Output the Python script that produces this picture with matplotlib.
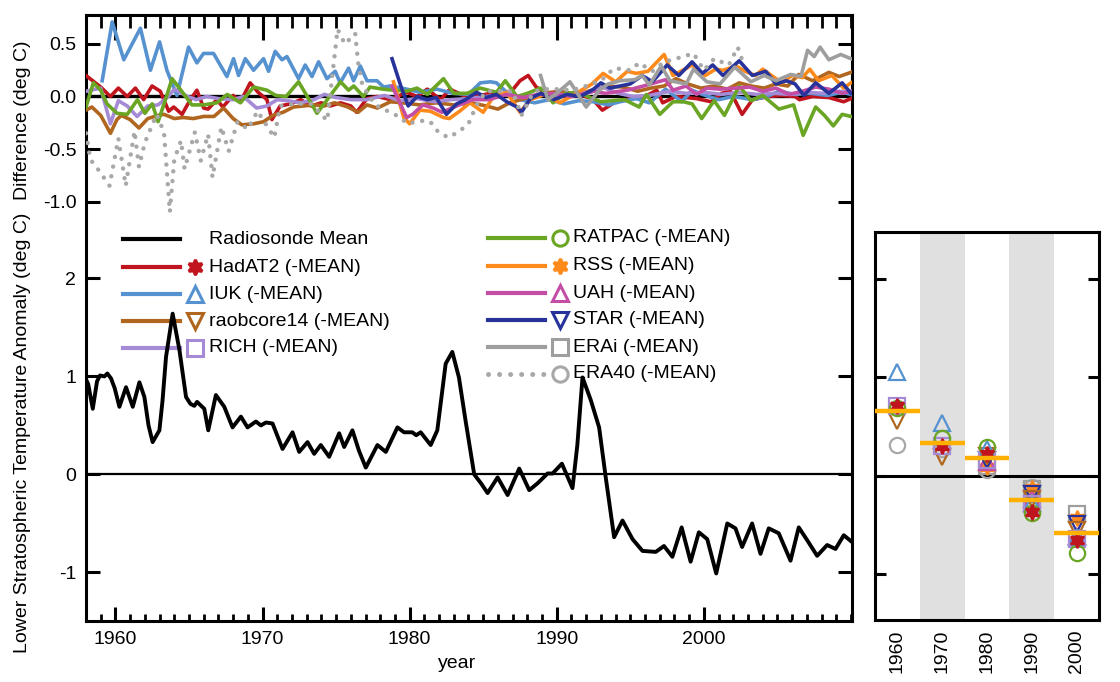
import numpy as np
import matplotlib
matplotlib.use("Agg")
import matplotlib.pyplot as plt
from matplotlib.lines import Line2D
from matplotlib.ticker import MultipleLocator

plt.rcParams['font.family'] = ['Liberation Sans', 'DejaVu Sans']

# radiosonde mean anomaly (year, deg C)
rs_mean = np.array([
    (1958.0, 0.97), (1958.15, 0.92), (1958.46, 0.67), (1958.75, 0.95), (1958.95, 1.01),
    (1959.25, 1.00), (1959.45, 1.03), (1959.7, 0.98), (1959.95, 0.88), (1960.27, 0.69),
    (1960.72, 0.89), (1961.18, 0.69), (1961.63, 0.94), (1961.97, 0.79), (1962.25, 0.50),
    (1962.53, 0.33), (1962.99, 0.45), (1963.2, 0.75), (1963.44, 1.20), (1963.89, 1.64),
    (1964.35, 1.27), (1964.8, 0.79), (1965.1, 0.72), (1965.36, 0.70), (1965.55, 0.74),
    (1966.04, 0.67), (1966.31, 0.45), (1966.83, 0.81), (1967.4, 0.69), (1967.96, 0.48),
    (1968.53, 0.59), (1968.98, 0.48), (1969.55, 0.54), (1969.89, 0.50), (1970.23, 0.53),
    (1970.68, 0.52), (1971.36, 0.26), (1972.04, 0.43), (1972.49, 0.23), (1973.06, 0.33),
    (1973.51, 0.21), (1973.96, 0.30), (1974.53, 0.18), (1975.21, 0.42), (1975.55, 0.28),
    (1976.11, 0.45), (1976.56, 0.24), (1977.02, 0.07), (1977.81, 0.30), (1978.38, 0.23),
    (1979.17, 0.48), (1979.62, 0.43), (1980.18, 0.43), (1980.45, 0.40), (1980.75, 0.43),
    (1981.43, 0.30), (1981.88, 0.45), (1982.45, 1.13), (1982.9, 1.25), (1983.35, 0.99),
    (1983.8, 0.55), (1984.39, 0.00), (1984.85, -0.09), (1985.3, -0.19), (1985.98, -0.03),
    (1986.66, -0.21), (1987.45, 0.06), (1988.13, -0.16), (1988.7, -0.09), (1989.38, 0.01),
    (1989.72, 0.01), (1990.35, 0.11), (1991.07, -0.14), (1991.4, 0.30), (1991.75, 0.99),
    (1992.31, 0.76), (1992.88, 0.48), (1993.33, -0.03), (1993.9, -0.64), (1994.47, -0.47),
    (1995.15, -0.66), (1995.83, -0.78), (1996.73, -0.79), (1997.29, -0.73), (1997.86, -0.84),
    (1998.49, -0.54), (1999.1, -0.89), (1999.66, -0.59), (2000.23, -0.66), (2000.84, -1.01),
    (2001.59, -0.50), (2002.15, -0.55), (2002.6, -0.74), (2003.28, -0.50), (2003.85, -0.81),
    (2004.41, -0.55), (2005.09, -0.60), (2005.89, -0.88), (2006.45, -0.54), (2007.02, -0.67),
    (2007.7, -0.83), (2008.38, -0.72), (2008.95, -0.76), (2009.51, -0.62), (2010.08, -0.69)])

# differences from the mean (year, deg C)
hadat2 = np.array([
    (1958.0, 0.20), (1959.0, 0.09), (1959.66, 0.0), (1960.2, 0.08), (1960.8, 0.0),
    (1961.36, 0.08), (1961.92, -0.03), (1962.49, 0.10), (1963.05, 0.05), (1963.62, -0.14),
    (1963.96, -0.10), (1964.53, -0.17), (1965.09, -0.03), (1965.54, 0.06), (1966.0, -0.11),
    (1966.3, -0.12), (1966.9, -0.03), (1967.3, -0.10), (1968.0, 0.01), (1968.5, -0.05),
    (1969.16, 0.13), (1969.7, 0.04), (1970.3, -0.03), (1970.64, -0.22), (1971.2, -0.09),
    (1971.9, -0.07), (1972.6, -0.03), (1973.3, -0.09), (1974.0, -0.06), (1974.6, -0.09),
    (1975.3, -0.06), (1976.0, -0.09), (1976.4, -0.15), (1977.1, -0.02), (1977.8, 0.0),
    (1978.7, -0.03), (1979.8, 0.04), (1980.5, 0.0), (1981.2, 0.07), (1982.1, -0.03),
    (1982.74, 0.07), (1983.8, 0.0), (1984.8, 0.01), (1985.5, 0.03), (1986.2, 0.0),
    (1987.04, 0.07), (1987.5, 0.15), (1988.06, 0.20), (1988.6, 0.09), (1989.3, 0.03),
    (1990.6, 0.0), (1991.5, 0.02), (1992.4, -0.02), (1993.1, -0.13), (1994.0, -0.05),
    (1995.1, -0.02), (1996.0, 0.0), (1996.8, 0.06), (1997.2, -0.06), (1998.1, 0.0),
    (1999.5, -0.02), (2000.5, -0.05), (2001.2, 0.03), (2001.8, 0.05), (2002.6, -0.17),
    (2003.3, -0.03), (2004.4, 0.0), (2005.3, 0.01), (2006.2, 0.0), (2006.5, -0.03),
    (2007.4, 0.0), (2008.5, -0.01), (2009.5, -0.05), (2010.0, -0.02)])

iuk = np.array([
    (1959.1, 0.15), (1959.78, 0.71), (1960.57, 0.35), (1961.7, 0.65), (1962.38, 0.25),
    (1963.0, 0.52), (1963.5, 0.25), (1964.18, 0.01), (1964.97, 0.47), (1965.54, 0.32),
    (1965.99, 0.41), (1966.67, 0.41), (1967.58, 0.19), (1968.03, 0.36), (1968.37, 0.20),
    (1968.83, 0.36), (1969.39, 0.25), (1970.07, 0.36), (1970.41, 0.24), (1970.86, 0.43),
    (1971.32, 0.35), (1971.66, 0.38), (1972.45, 0.17), (1972.9, 0.30), (1973.36, 0.19),
    (1973.81, 0.33), (1974.38, 0.17), (1974.94, 0.24), (1975.28, 0.13), (1975.85, 0.27),
    (1976.19, 0.15), (1976.65, 0.29), (1977.1, 0.15), (1977.78, 0.15), (1978.23, 0.09),
    (1978.68, 0.10), (1979.8, 0.07), (1980.7, 0.04), (1981.84, 0.07), (1982.95, 0.03),
    (1984.0, 0.02), (1984.8, 0.13), (1985.5, 0.14), (1985.9, 0.13), (1986.6, 0.04),
    (1987.5, -0.03), (1988.5, -0.06), (1989.5, -0.03), (1990.5, -0.07), (1991.5, -0.04),
    (1992.5, -0.05), (1993.5, -0.08), (1994.3, -0.05), (1995.4, -0.02), (1996.3, -0.06),
    (1997.4, 0.07), (1998.5, -0.05), (1999.2, 0.06), (1999.9, 0.02), (2001.0, -0.03),
    (2002.0, 0.0), (2003.3, -0.03), (2004.3, 0.0), (2005.1, 0.05), (2006.2, 0.02),
    (2007.3, 0.03), (2008.4, 0.01), (2009.4, 0.04), (2010.0, 0.02)])

raobcore14 = np.array([
    (1958.0, -0.13), (1958.4, -0.10), (1959.0, -0.18), (1959.66, -0.35), (1960.1, -0.22),
    (1960.4, -0.18), (1961.0, -0.22), (1961.6, -0.30), (1962.2, -0.21), (1962.9, -0.18),
    (1963.3, -0.17), (1964.0, -0.21), (1964.6, -0.20), (1965.3, -0.21), (1966.0, -0.19),
    (1966.7, -0.19), (1967.35, -0.11), (1968.0, -0.21), (1968.6, -0.27), (1969.4, -0.26),
    (1970.07, -0.24), (1970.7, -0.18), (1971.4, -0.15), (1972.1, -0.10), (1972.8, -0.09),
    (1973.5, -0.08), (1974.2, -0.09), (1974.9, -0.06), (1975.8, -0.10), (1976.5, -0.15),
    (1977.1, -0.08), (1977.8, -0.11), (1978.7, -0.05), (1979.5, -0.06), (1980.7, -0.08),
    (1981.8, -0.06), (1983.0, -0.08), (1984.2, -0.06), (1985.2, -0.09), (1986.0, -0.12),
    (1986.8, -0.06), (1987.8, -0.02), (1989.0, 0.03), (1990.2, 0.05), (1991.4, 0.02),
    (1992.4, 0.06), (1993.3, 0.10), (1994.5, 0.09), (1995.5, 0.05), (1996.4, 0.08),
    (1997.3, 0.10), (1998.1, 0.17), (1998.9, 0.12), (1999.8, 0.08), (2000.7, 0.10),
    (2001.6, 0.07), (2002.4, 0.13), (2003.2, 0.10), (2004.1, 0.08), (2004.9, 0.12),
    (2005.7, 0.10), (2006.45, 0.21), (2007.4, 0.15), (2008.5, 0.23), (2009.2, 0.19),
    (2010.0, 0.23)])

rich = np.array([
    (1958.0, 0.05), (1959.0, 0.08), (1959.66, -0.26), (1960.2, -0.04), (1960.8, -0.09),
    (1961.47, -0.19), (1962.2, -0.09), (1962.9, -0.08), (1963.6, 0.0), (1964.0, 0.07),
    (1964.9, 0.0), (1965.5, -0.03), (1966.2, 0.0), (1967.0, -0.02), (1968.0, -0.03),
    (1968.7, 0.0), (1969.6, -0.11), (1970.3, -0.09), (1971.0, -0.03), (1971.7, -0.04),
    (1972.6, -0.06), (1973.5, -0.03), (1974.2, 0.02), (1975.0, -0.01), (1976.0, -0.03),
    (1977.1, -0.03), (1978.3, 0.01), (1979.3, -0.04), (1980.5, -0.02), (1981.7, -0.05),
    (1982.8, -0.03), (1984.0, -0.02), (1985.2, 0.0), (1986.4, 0.02), (1987.6, -0.01),
    (1988.8, 0.02), (1990.0, 0.01), (1991.2, 0.03), (1992.3, 0.04), (1993.1, 0.09),
    (1994.2, 0.03), (1995.2, 0.0), (1996.3, 0.01), (1997.7, 0.05), (1998.8, 0.03),
    (2000.0, 0.04), (2001.2, 0.02), (2002.4, 0.04), (2003.6, 0.02), (2004.8, 0.03),
    (2005.9, 0.02), (2007.0, 0.04), (2008.2, 0.03), (2009.2, 0.05), (2010.0, 0.04)])

ratpac = np.array([
    (1958.0, -0.10), (1958.5, 0.13), (1959.0, 0.06), (1959.43, -0.07), (1960.1, -0.16),
    (1960.8, -0.17), (1961.5, -0.03), (1962.0, -0.16), (1962.5, -0.07), (1962.9, -0.24),
    (1963.4, -0.03), (1963.85, 0.17), (1964.4, 0.07), (1965.2, -0.08), (1966.0, -0.08),
    (1966.9, -0.06), (1967.6, 0.02), (1968.5, -0.06), (1969.4, 0.09), (1970.3, 0.06),
    (1970.9, 0.01), (1971.6, 0.0), (1972.45, 0.14), (1973.0, 0.01), (1973.7, -0.16),
    (1974.4, -0.03), (1975.3, 0.14), (1975.85, 0.06), (1976.2, 0.10), (1976.86, 0.0),
    (1977.3, 0.09), (1978.2, 0.07), (1978.9, 0.06), (1979.8, 0.05), (1980.5, 0.08),
    (1981.2, 0.02), (1982.3, 0.17), (1983.0, 0.03), (1983.9, 0.03), (1984.8, 0.08),
    (1985.9, 0.04), (1986.5, 0.15), (1987.3, 0.0), (1988.0, 0.03), (1988.9, 0.08),
    (1989.75, -0.06), (1990.6, 0.03), (1991.5, 0.04), (1992.1, 0.0), (1993.0, -0.05),
    (1993.8, -0.04), (1994.6, -0.03), (1995.6, -0.10), (1996.1, 0.02), (1997.0, -0.17),
    (1997.9, -0.05), (1998.6, -0.05), (1999.2, -0.07), (1999.85, -0.21), (2000.7, -0.04),
    (2001.4, -0.18), (2002.4, 0.10), (2003.2, -0.04), (2004.0, 0.01), (2005.1, -0.12),
    (2006.1, -0.08), (2006.75, -0.37), (2007.6, -0.10), (2008.2, -0.18), (2008.8, -0.28),
    (2009.4, -0.17), (2010.0, -0.19)])

rss = np.array([
    (1978.9, 0.14), (1979.6, -0.20), (1980.0, -0.26), (1980.7, -0.13), (1981.4, -0.14),
    (1982.3, -0.20), (1982.7, -0.21), (1983.4, -0.14), (1984.1, -0.06), (1985.0, -0.15),
    (1985.7, 0.0), (1986.6, 0.04), (1987.5, -0.15), (1988.2, -0.03), (1989.2, 0.02),
    (1990.2, -0.06), (1991.2, 0.02), (1992.4, 0.12), (1993.15, 0.22), (1994.0, 0.14),
    (1994.8, 0.24), (1995.4, 0.22), (1996.2, 0.24), (1997.3, 0.40), (1997.9, 0.20),
    (1998.7, 0.26), (1999.2, 0.30), (2000.1, 0.20), (2000.8, 0.26), (2001.3, 0.25),
    (2002.2, 0.29), (2002.8, 0.24), (2003.5, 0.20), (2004.0, 0.26), (2004.6, 0.20),
    (2005.3, 0.13), (2006.0, 0.20), (2006.7, 0.18), (2007.2, 0.26), (2007.8, 0.15),
    (2008.7, 0.20), (2009.5, 0.08), (2010.0, 0.13)])

uah = np.array([
    (1978.8, 0.10), (1979.8, -0.20), (1980.2, -0.17), (1980.9, -0.08), (1981.6, -0.11),
    (1982.2, -0.15), (1983.2, -0.09), (1984.3, -0.03), (1985.4, -0.03), (1986.6, 0.02),
    (1987.7, -0.01), (1988.8, 0.02), (1989.8, 0.03), (1991.0, 0.0), (1992.5, 0.05),
    (1993.3, 0.03), (1994.8, 0.06), (1995.9, 0.10), (1997.4, 0.16), (1997.9, 0.06),
    (1998.8, 0.10), (1999.5, 0.02), (2000.2, 0.08), (2001.1, 0.07), (2002.2, 0.08),
    (2003.1, 0.09), (2004.0, 0.05), (2004.9, 0.08), (2005.8, 0.02), (2006.7, 0.05),
    (2007.6, 0.09), (2008.5, 0.07), (2009.4, 0.03), (2010.0, 0.05)])

star = np.array([
    (1978.8, 0.36), (1979.4, 0.10), (1979.9, -0.09), (1980.5, 0.0), (1981.2, -0.03),
    (1981.8, -0.01), (1982.5, -0.17), (1983.2, -0.07), (1983.8, -0.03), (1984.55, 0.04),
    (1985.2, -0.01), (1985.9, 0.02), (1986.6, -0.05), (1987.3, -0.10), (1987.6, -0.15),
    (1988.2, -0.02), (1988.9, 0.03), (1989.8, -0.03), (1990.7, 0.02), (1991.6, 0.0),
    (1992.5, 0.07), (1993.0, 0.13), (1993.6, 0.08), (1994.3, 0.10), (1995.0, 0.12),
    (1995.8, 0.20), (1996.5, 0.14), (1997.5, 0.30), (1998.3, 0.20), (1999.2, 0.33),
    (1999.9, 0.22), (2000.6, 0.30), (2001.3, 0.20), (2002.4, 0.34), (2003.3, 0.20),
    (2004.2, 0.24), (2004.9, 0.12), (2005.6, 0.15), (2006.2, 0.12), (2006.8, 0.01),
    (2007.6, 0.13), (2008.5, 0.03), (2009.4, 0.13), (2010.0, 0.03)])

erai = np.array([
    (1988.9, 0.20), (1989.4, -0.03), (1990.0, 0.03), (1990.9, 0.14), (1992.0, -0.10),
    (1992.9, 0.06), (1993.5, 0.12), (1994.3, 0.15), (1995.3, 0.16), (1995.8, 0.20),
    (1996.3, 0.11), (1997.1, 0.29), (1997.7, 0.15), (1998.8, 0.12), (1999.3, 0.26),
    (2000.2, 0.14), (2001.1, 0.12), (2002.1, 0.28), (2003.2, 0.14), (2004.1, 0.20),
    (2004.9, 0.15), (2005.9, 0.21), (2006.6, 0.19), (2007.05, 0.44), (2007.5, 0.38),
    (2007.9, 0.47), (2008.5, 0.35), (2009.3, 0.40), (2010.0, 0.36)])

era40 = np.array([
    (1958.0, -0.35), (1958.3, -0.60), (1958.8, -0.69), (1959.6, -0.85), (1960.2, -0.40),
    (1960.7, -0.85), (1961.3, -0.33), (1961.6, -0.67), (1962.0, -0.44), (1962.8, -0.17),
    (1963.3, -0.34), (1963.7, -1.10), (1964.0, -0.60), (1964.46, -0.42), (1964.7, -0.69),
    (1965.4, -0.34), (1965.8, -0.61), (1966.3, -0.36), (1966.6, -0.77), (1967.2, -0.29),
    (1967.7, -0.52), (1968.3, -0.24), (1969.0, -0.31), (1969.66, -0.14), (1970.8, -0.39),
    (1971.2, -0.09), (1972.3, -0.07), (1973.3, -0.07), (1974.4, -0.23), (1975.1, 0.64),
    (1975.6, 0.50), (1976.3, 0.60), (1976.5, 0.32), (1976.8, 0.10), (1977.65, -0.08),
    (1979.1, -0.18), (1979.9, -0.26), (1980.7, -0.23), (1981.4, -0.24), (1981.9, -0.33),
    (1982.6, -0.39), (1983.3, -0.34), (1984.0, -0.26), (1984.55, -0.08), (1985.2, 0.05),
    (1985.9, 0.05), (1987.0, 0.05), (1987.6, -0.18), (1988.4, 0.04), (1989.0, 0.07),
    (1990.0, 0.07), (1991.0, 0.06), (1992.0, 0.10), (1993.0, 0.15), (1993.9, 0.27),
    (1995.0, 0.25), (1995.6, 0.32), (1996.5, 0.24), (1997.3, 0.33), (1998.1, 0.36),
    (1999.3, 0.41), (2000.0, 0.25), (2000.7, 0.36), (2001.7, 0.30), (2002.3, 0.47),
    (2002.6, 0.35)])

# decadal means (right panel)
decades = ['1960', '1970', '1980', '1990', '2000']
dec_mean = [0.66, 0.33, 0.18, -0.25, -0.58]
dec_vals = {
    'HadAT2':     [0.71, 0.30, 0.22, -0.37, -0.65],
    'IUK':        [1.05, 0.54, 0.27, -0.28, -0.62],
    'raobcore14': [0.56, 0.19, 0.20, -0.24, -0.55],
    'RICH':       [0.71, 0.30, 0.16, -0.29, -0.64],
    'RATPAC':     [0.69, 0.38, 0.29, -0.38, -0.78],
    'RSS':        [np.nan, np.nan, 0.09, -0.13, -0.43],
    'UAH':        [np.nan, np.nan, 0.14, -0.24, -0.61],
    'STAR':       [np.nan, np.nan, 0.16, -0.19, -0.49],
    'ERAi':       [np.nan, np.nan, 0.10, -0.14, -0.39],
    'ERA40':      [0.31, 0.27, 0.06, -0.11, np.nan],
}

diff_series = {'HadAT2': hadat2, 'IUK': iuk, 'raobcore14': raobcore14, 'RICH': rich,
               'RATPAC': ratpac, 'RSS': rss, 'UAH': uah, 'STAR': star,
               'ERAi': erai, 'ERA40': era40}

# styles: colour, marker, filled, linestyle
DOTS = (0, (0.01, 2.2))
sty = {
    'HadAT2':     ('#c0141e', (6, 1, 0), True, '-'),
    'IUK':        ('#5691d0', '^', False, '-'),
    'raobcore14': ('#b0661e', 'v', False, '-'),
    'RICH':       ('#a58ad6', 's', False, '-'),
    'RATPAC':     ('#6aa524', 'o', False, '-'),
    'RSS':        ('#ff8a1c', (6, 1, 0), True, '-'),
    'UAH':        ('#c44ea6', '^', False, '-'),
    'STAR':       ('#27339a', 'v', False, '-'),
    'ERAi':       ('#9e9e9e', 's', False, '-'),
    'ERA40':      ('#a8a8a8', 'o', False, DOTS),
}

W, H = 1120, 682
fig = plt.figure(figsize=(W / 100, H / 100), dpi=100)


def fx(px):
    return px / W


def fy(py):
    return 1 - py / H


rect = [fx(86), fy(621), fx(852) - fx(86), fy(14.7) - fy(621)]
ax = fig.add_axes(rect)
axd = fig.add_axes(rect, sharex=ax)
axd.patch.set_visible(False)

# anomaly panel
ax.plot(rs_mean[:, 0], rs_mean[:, 1], color='k', lw=2.8, zorder=4,
        solid_joinstyle='round')
ax.axhline(0, color='k', lw=1.6, zorder=3)
ax.set_xlim(1958.0, 2010.07)
ax.set_ylim(-1.495, 4.69)
ax.set_xticks([1960, 1970, 1980, 1990, 2000])
ax.xaxis.set_minor_locator(MultipleLocator(1))
ax.set_yticks([-1, 0, 1, 2])
ax.set_yticklabels(['-1', '0', '1', '2'])
ax.tick_params(axis='x', which='major', direction='in', length=10, width=2.2,
               top=False, labelsize=14, pad=7)
ax.tick_params(axis='x', which='minor', direction='in', length=5, width=2, top=False)
ax.tick_params(axis='y', direction='in', length=10, width=2.2, right=True,
               labelsize=14, pad=7)
for s in ax.spines.values():
    s.set_linewidth(2.2)

# difference panel
axd.axhline(0, color='k', lw=2.4, zorder=1)
for name, d in diff_series.items():
    c, m, filled, ls = sty[name]
    lw = 3.2 if name == 'ERA40' else 2.6
    axd.plot(d[:, 0], d[:, 1], color=c, lw=lw, ls=ls, dash_capstyle='round',
             solid_joinstyle='round', zorder=2)
axd.set_ylim(-4.995, 0.779)
axd.set_yticks([-1.0, -0.5, 0.0, 0.5])
axd.set_yticklabels(['-1.0', '-0.5', '0.0', '0.5'])
axd.tick_params(axis='x', which='both', bottom=False, labelbottom=False, top=True,
                direction='in')
axd.tick_params(axis='x', which='major', length=18, width=2.2)
axd.tick_params(axis='x', which='minor', length=9, width=2)
axd.tick_params(axis='y', direction='in', length=10, width=2.2, right=True,
                labelsize=14, pad=7)
for s in axd.spines.values():
    s.set_visible(False)

fig.text(fx(23), fy(120), 'Difference (deg C)', rotation=90, ha='center',
         va='center', fontsize=14)
fig.text(fx(23), fy(433), 'Lower Stratospheric Temperature Anomaly (deg C)',
         rotation=90, ha='center', va='center', fontsize=14)
fig.text(fx(457), fy(664), 'year', ha='center', va='center', fontsize=14)

# legend
left_names = ['Radiosonde Mean', 'HadAT2', 'IUK', 'raobcore14', 'RICH']
left_rows = [239, 267, 294, 321, 348]
right_names = ['RATPAC', 'RSS', 'UAH', 'STAR', 'ERAi', 'ERA40']
right_rows = [238, 266, 293, 320, 347, 374]


def legend_entry(name, y, x0, x1, xm, xt):
    if name == 'Radiosonde Mean':
        c, m, filled, ls = 'k', None, False, '-'
        label = name
    else:
        c, m, filled, ls = sty[name]
        label = name + ' (-MEAN)'
    lw = 3.6 if name == 'ERA40' else 3.0
    ax.add_line(Line2D([fx(x0), fx(x1)], [fy(y), fy(y)], transform=fig.transFigure,
                       color=c, lw=lw, ls=ls, dash_capstyle='round', zorder=1,
                       clip_on=False))
    if m is not None:
        ax.add_line(Line2D([fx(xm)], [fy(y)], transform=fig.transFigure, marker=m,
                           ms=11, mec=c, mfc=c if filled else 'none', mew=2.2,
                           ls='none', zorder=1, clip_on=False))
    ax.text(fx(xt), fy(y), label, transform=fig.transFigure, ha='left',
            va='center', fontsize=14, zorder=1)


for n, y in zip(left_names, left_rows):
    legend_entry(n, y, 123, 180, 195, 209)
for n, y in zip(right_names, right_rows):
    legend_entry(n, y, 488, 545, 560, 573)

# decadal panel
axr = fig.add_axes([fx(875), fy(620), fx(1099) - fx(875), fy(232) - fy(620)])
xpos = np.arange(len(decades))
axr.axvspan(0.5, 1.5, color='#e0e0e0', lw=0, zorder=0)
axr.axvspan(2.5, 3.5, color='#e0e0e0', lw=0, zorder=0)
axr.axhline(0, color='k', lw=2.2, zorder=1)
order = ['ERA40', 'ERAi', 'RSS', 'UAH', 'STAR', 'raobcore14', 'IUK',
         'RICH', 'RATPAC', 'HadAT2']
for name in order:
    c, m, filled, ls = sty[name]
    axr.plot(xpos, dec_vals[name], ls='none', marker=m, ms=11, mec=c,
             mfc=c if filled else 'none', mew=1.6, zorder=3)
axr.hlines(dec_mean, xpos - 0.5, xpos + 0.5, color='#ffb000', lw=3.2, zorder=5)
axr.set_xlim(-0.5, 4.5)
axr.set_ylim(-1.465, 2.474)
axr.set_xticks(xpos)
axr.set_xticklabels(decades, rotation=90, fontsize=14)
axr.tick_params(axis='x', length=0, pad=7)
axr.set_yticks([-1, 0, 1, 2])
axr.tick_params(axis='y', direction='in', length=8, width=2.2, right=True,
                labelleft=False)
for s in axr.spines.values():
    s.set_linewidth(2.2)

fig.savefig('out.png', dpi=100)
